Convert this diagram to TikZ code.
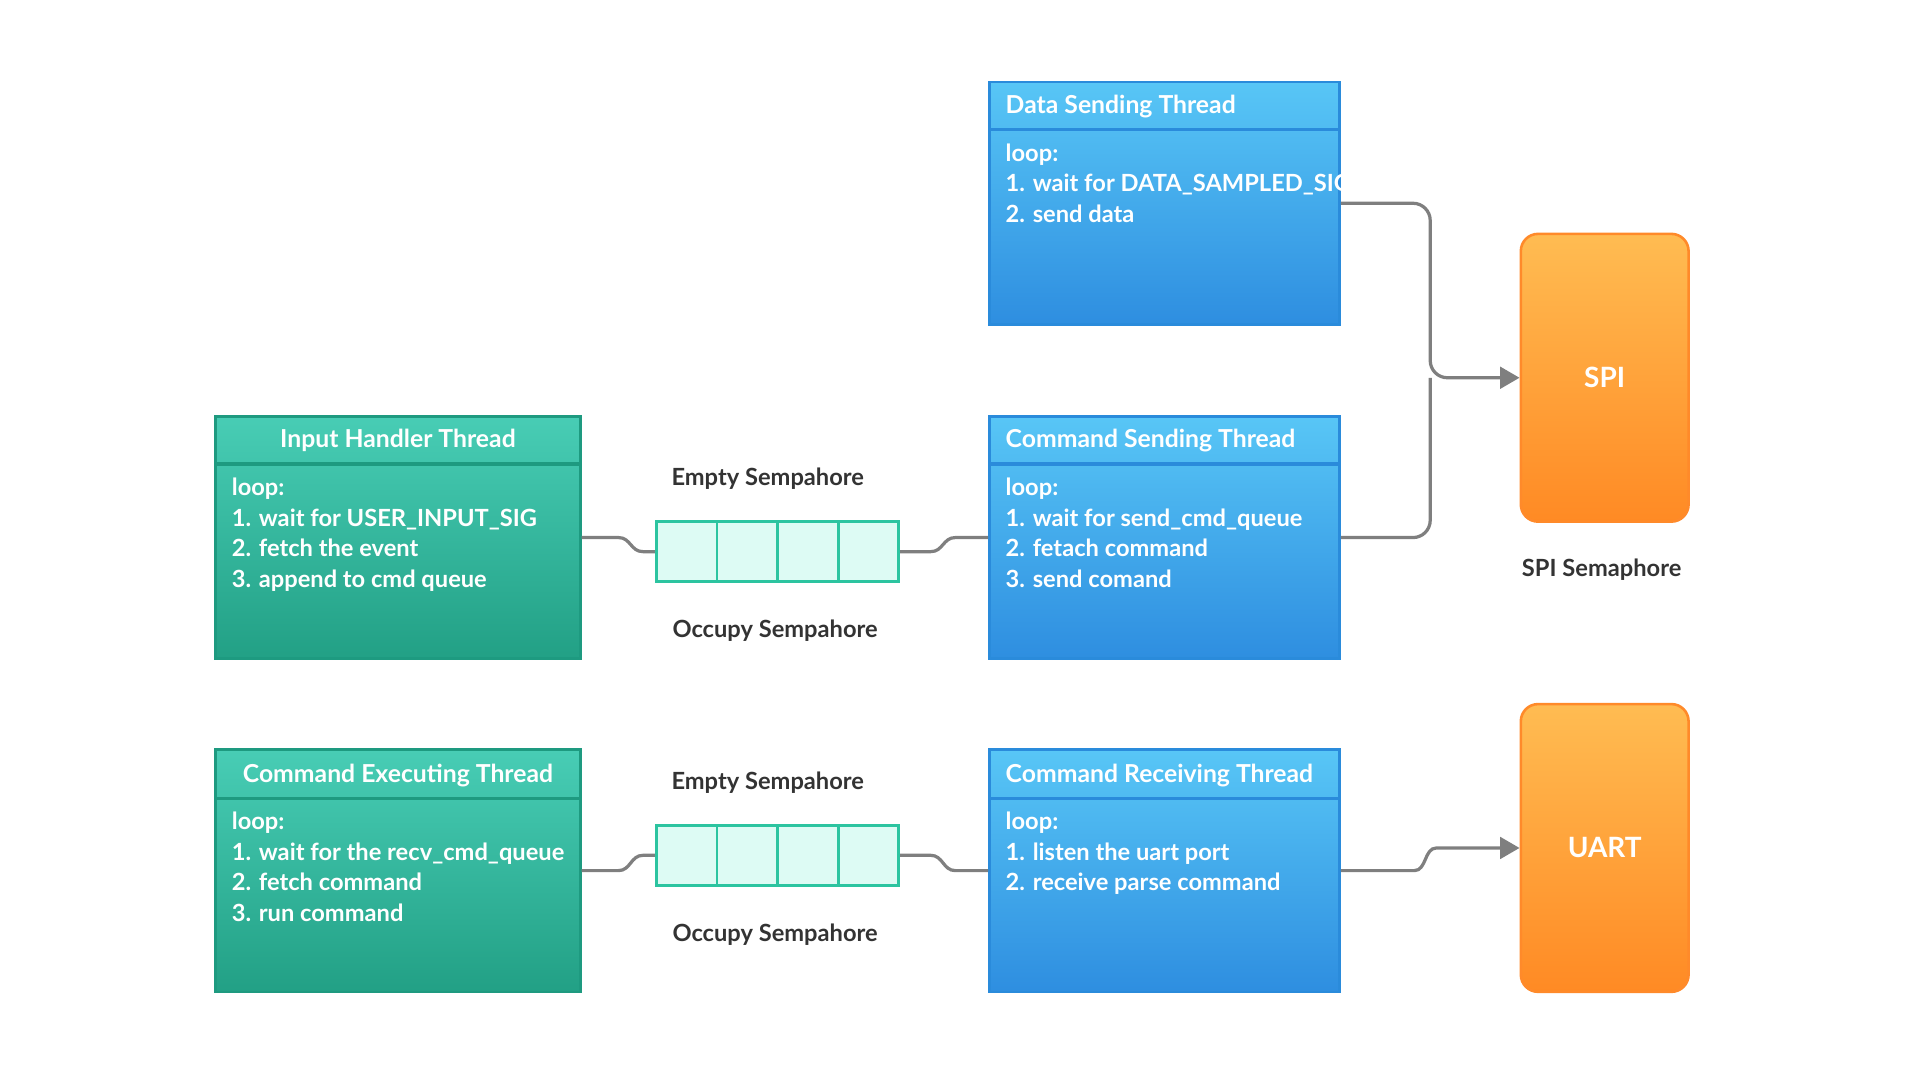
\documentclass[tikz,border=0pt]{standalone}
\usepackage{fontspec}
\setmainfont{Lato}
\usetikzlibrary{fit,arrows.meta}
\definecolor{gtop}{HTML}{48CDB5}\definecolor{gbot}{HTML}{22A085}\definecolor{gedge}{HTML}{1E9A80}
\definecolor{btop}{HTML}{58C6F6}\definecolor{bbot}{HTML}{2E8EE0}\definecolor{bedge}{HTML}{2A8BDB}
\definecolor{otop}{HTML}{FFBC52}\definecolor{obot}{HTML}{FF8A24}\definecolor{oedge}{HTML}{FF8A2A}
\definecolor{qfill}{HTML}{DDFBF4}\definecolor{qedge}{HTML}{2CC4A0}
\definecolor{conn}{HTML}{7F7F7F}\definecolor{txt}{HTML}{333333}
\tikzset{
 gbox/.style={draw=gedge,line width=1.2pt,top color=gtop,bottom color=gbot,inner sep=0pt},
 bbox/.style={draw=bedge,line width=1.2pt,top color=btop,bottom color=bbot,inner sep=0pt},
 obox/.style={draw=oedge,line width=1.2pt,top color=otop,bottom color=obot,inner sep=0pt,rounded corners=8pt},
 gline/.style={draw=gedge,line width=1.5pt},
 bline/.style={draw=bedge,line width=1.5pt},
 ttl/.style={text=white,font=\fontsize{11.5}{14}\selectfont\bfseries,inner sep=0pt},
 body/.style={text=white,font=\fontsize{11}{14.2}\selectfont\bfseries,align=left,anchor=north west,inner sep=0pt},
 lbl/.style={text=txt,font=\fontsize{11}{14}\selectfont\bfseries,inner sep=0pt},
 qcell/.style={draw=qedge,fill=qfill,line width=1.3pt},
 cn/.style={draw=conn,line width=1.5pt,rounded corners=8pt},
 ar/.style={cn,-{Triangle[length=9pt,width=10pt]}},
}
\begin{document}
\begin{tikzpicture}[x=0.02cm,y=-0.02cm]
\useasboundingbox (0,0) rectangle (1568,882);
% boxes
\node[bbox,fit={(808,67)(1094,265)}] (ds) {};
\node[bbox,fit={(808,340)(1094,538)}] (cs) {};
\node[bbox,fit={(808,612)(1094,810)}] (cr) {};
\node[gbox,fit={(176,340)(474,538)}] (ih) {};
\node[gbox,fit={(176,612)(474,810)}] (ce) {};
\node[obox,fit={(1242,191)(1379,426)}] (spi) {};
\node[obox,fit={(1242,575)(1379,810)}] (uart) {};
\node[text=white,font=\fontsize{13}{15}\selectfont\bfseries] (spit) at (spi.center) {SPI};
\node[text=white,font=\fontsize{13}{15}\selectfont\bfseries] (uartt) at (uart.center) {UART};
% header lines
\draw[bline] (808,106) -- (1094,106);
\draw[bline] (808,379) -- (1094,379);
\draw[bline] (808,652) -- (1094,652);
\draw[gline] (176,379) -- (474,379);
\draw[gline] (176,652) -- (474,652);
% titles
\node[ttl,anchor=west] (dst) at (821,87) {Data Sending Thread};
\node[ttl,anchor=west] (cst) at (821,360) {Command Sending Thread};
\node[ttl,anchor=west] (crt) at (821,633) {Command Receiving Thread};
\node[ttl] (iht) at (325,360) {Input Handler Thread};
\node[ttl] (cet) at (325,633) {Command Executing Thread};
% bodies
\node[body] (dsb) at (821,117) {loop:\\1. wait for DATA\_SAMPLED\_SIG\\2. send data};
\node[body] (csb) at (821,390) {loop:\\1. wait for send\_cmd\_queue\\2. fetach command\\3. send comand};
\node[body] (crb) at (821,663) {loop:\\1. listen the uart port\\2. receive parse command};
\node[body] (ihb) at (189,390) {loop:\\1. wait for USER\_INPUT\_SIG\\2. fetch the event\\3. append to cmd queue};
\node[body] (ceb) at (189,663) {loop:\\1. wait for the recv\_cmd\_queue\\2. fetch command\\3. run command};
% queues
\foreach \i in {0,1,2,3}{
 \node[qcell,fit={(536+49.5*\i,426)(585.5+49.5*\i,475)},inner sep=0pt] (qa\i) {};
 \node[qcell,fit={(536+49.5*\i,674)(585.5+49.5*\i,723)},inner sep=0pt] (qb\i) {};
}
% labels
\node[lbl] (l1) at (627,391) {Empty Sempahore};
\node[lbl] (l2) at (633,515) {Occupy Sempahore};
\node[lbl] (l3) at (627,639) {Empty Sempahore};
\node[lbl] (l4) at (633,763) {Occupy Sempahore};
\node[lbl] (l5) at (1308,465) {SPI Semaphore};
% connectors
\draw[draw=conn,line width=1.5pt] (ih.east) -- ++(30,0) .. controls ++(10,0) and ++(-10,0) .. ++(20,11.5) -- (qa0.west);
\draw[draw=conn,line width=1.5pt] (qa3.east) -- ++(25,0) .. controls ++(10,0) and ++(-10,0) .. ++(20,-11.5) -- (cs.west);
\draw[draw=conn,line width=1.5pt] (ce.east) -- ++(30,0) .. controls ++(10,0) and ++(-10,0) .. ++(20,-12.5) -- (qb0.west);
\draw[draw=conn,line width=1.5pt] (qb3.east) -- ++(25,0) .. controls ++(10,0) and ++(-10,0) .. ++(20,12.5) -- (cr.west);
\draw[ar] (ds.east) -| (1168,308.5) -- (spi.west);
\draw[cn] (cs.east) -| (1168,308.5);
\draw[draw=conn,line width=1.5pt,-{Triangle[length=9pt,width=10pt]}] (cr.east) -- ++(60,0) .. controls ++(10,0) and ++(-10,0) .. ++(18,-18.5) -- (uart.west);
\end{tikzpicture}
\end{document}
